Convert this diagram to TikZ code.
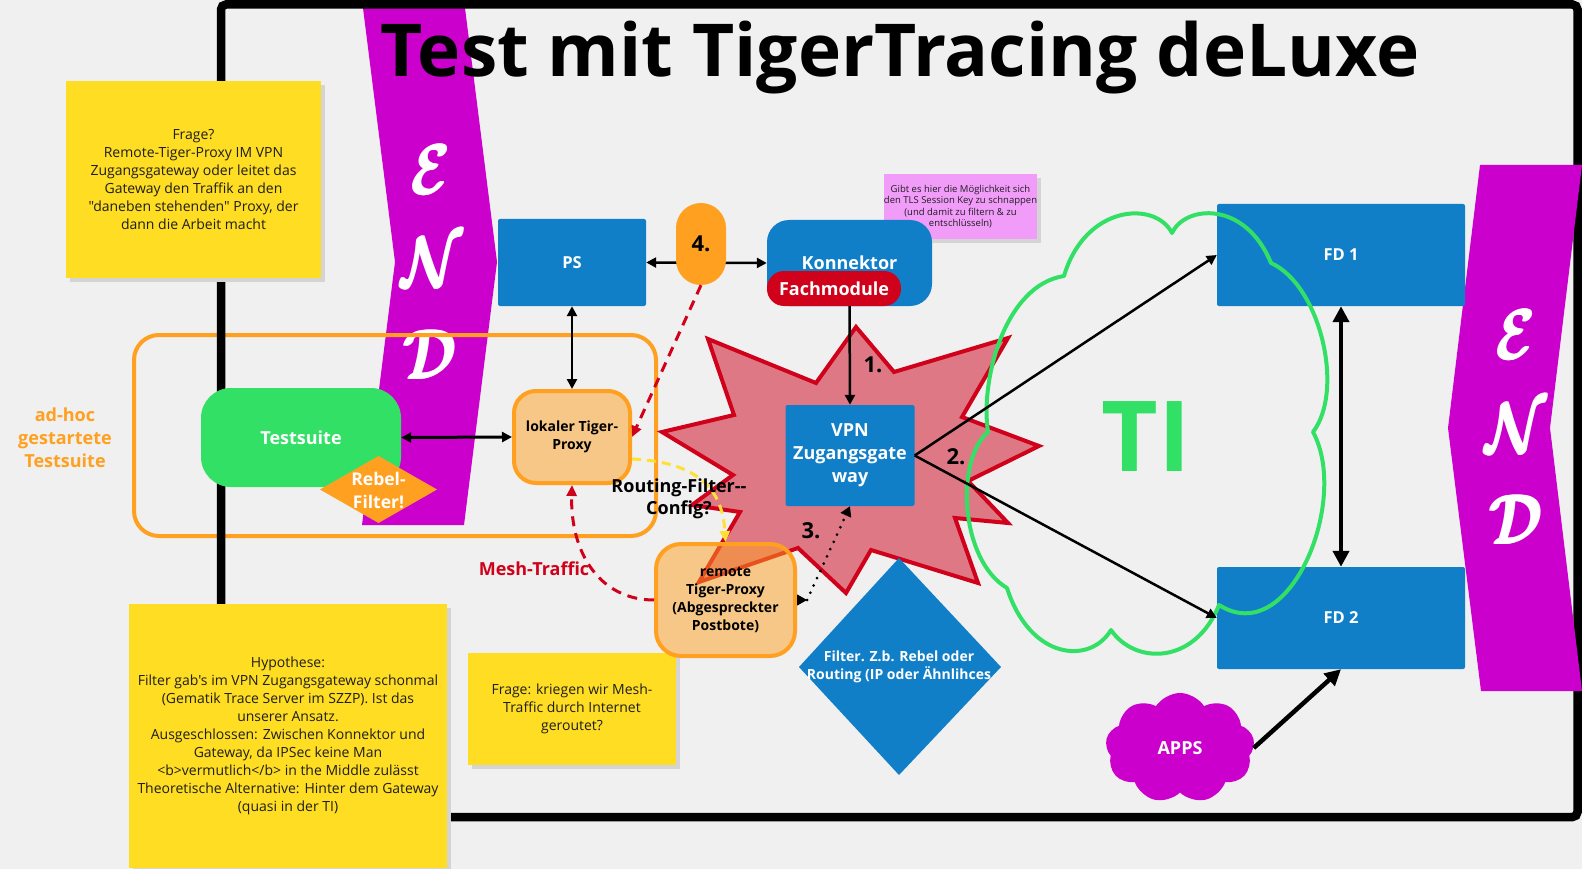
\documentclass[tikz,border=0pt]{standalone}
\usepackage{fontspec}
\setmainfont{Open Sans}[Ligatures=TeXOff]
\usepackage{bm}
\usepackage{graphicx}
\usetikzlibrary{arrows.meta,shapes.geometric,shapes.symbols,shadows,calc}
\definecolor{bgc}{HTML}{F0F0F0}
\definecolor{tblue}{HTML}{117FC8}
\definecolor{tgreen}{HTML}{33E066}
\definecolor{tmag}{HTML}{CC00CC}
\definecolor{tyel}{HTML}{FFDD22}
\definecolor{torange}{HTML}{FFA020}
\definecolor{tred}{HTML}{D0021B}
\definecolor{tpink}{HTML}{F19CF9}
\definecolor{tdash}{HTML}{FFE033}
\definecolor{shade}{HTML}{D4D4D4}
\definecolor{ntext}{HTML}{1E1E1E}
\newcommand{\bannerletter}[1]{\scalebox{5.6}[7.2]{\rlap{$\bm{\mathcal{#1}}$}\hspace{0.22pt}\rlap{$\bm{\mathcal{#1}}$}\hspace{0.22pt}$\bm{\mathcal{#1}}$}}
\begin{document}
\begin{tikzpicture}[x=1pt,y=-1pt,
  note/.style={fill=tyel, text=ntext, align=center, inner sep=0pt,
    font=\fontsize{14}{18}\selectfont,
    general shadow={fill=shade, shadow xshift=4pt, shadow yshift=-4pt}},
  bbox/.style={fill=tblue, text=white, align=center, inner sep=0pt, rounded corners=2pt,
    font=\bfseries\fontsize{16.5}{20}\selectfont},
  proxy/.style={draw=torange, line width=4pt, fill=torange, fill opacity=0.5, text opacity=1,
    text=black, rounded corners=22pt, align=center, inner sep=0pt,
    font=\bfseries\fontsize{14}{18}\selectfont},
  arr/.style={draw=black, line width=2.5pt, -{Triangle[length=10pt,width=10pt]}},
  darr/.style={draw=black, line width=2.5pt, {Triangle[length=10pt,width=10pt]}-{Triangle[length=10pt,width=10pt]}},
  tharr/.style={draw=black, line width=4.5pt, -{Triangle[length=16pt,width=16pt]}},
  thdarr/.style={draw=black, line width=4.5pt, {Triangle[length=16pt,width=16pt]}-{Triangle[length=16pt,width=16pt]}},
  lbl/.style={font=\bfseries\fontsize{18}{22}\selectfont, align=center, inner sep=0pt},
  num/.style={font=\bfseries\fontsize{22}{24}\selectfont, inner sep=0pt},
  letter/.style={text=white, inner sep=0pt},
  banner/.style={fill=tmag}
]
\useasboundingbox (0,0) rectangle (1582,869);
\fill[bgc] (0,0) rectangle (1582,869);

% left banner
\fill[banner] (363,8) -- (465,8) -- (497,262) -- (464,525) -- (362,525) -- (395,262) -- cycle;
\node[letter] (le1) at (431,170) {\bannerletter{E}};
\node[letter] (ln1) at (432,262) {\bannerletter{N}};
\node[letter] (ld1) at (430,355) {\bannerletter{D}};

% ad-hoc group
\node[draw=torange, line width=4pt, rounded corners=25pt, minimum width=522pt, minimum height=201pt, inner sep=0pt] (grp) at (395,435.5) {};
\node[lbl, text=torange, font=\bfseries\fontsize{18}{23}\selectfont] (adhoc) at (65,438) {ad-hoc\\gestartete\\Testsuite};

% frame
\draw[line width=8.5pt, rounded corners=5pt] (221,4.5) rectangle (1577.5,817);

% right banner
\fill[banner] (1480,165) -- (1582,165) -- (1550,428) -- (1582,691) -- (1481,691) -- (1448,428) -- cycle;
\node[letter] (le2) at (1516,335) {\bannerletter{E}};
\node[letter] (ln2) at (1516,428) {\bannerletter{N}};
\node[letter] (ld2) at (1516,520) {\bannerletter{D}};

% title
\node[font=\bfseries\fontsize{73}{80}\selectfont, anchor=base, inner sep=0pt] (title) at (900,77) {Test mit TigerTracing deLuxe};

% notes
\node[note, minimum width=255pt, minimum height=197pt] (n1) at (193.5,179.5)
  {Frage?\\Remote-Tiger-Proxy IM VPN\\Zugangsgateway oder leitet das\\Gateway den Traffik an den\\"daneben stehenden" Proxy, der\\dann die Arbeit macht};
\node[note, minimum width=318pt, minimum height=264pt] (n2) at (288,736)
  {Hypothese:\\Filter gab's im VPN Zugangsgateway schonmal\\(Gematik Trace Server im SZZP). Ist das\\unserer Ansatz.\\Ausgeschlossen: Zwischen Konnektor und\\Gateway, da IPSec keine Man\\<b>vermutlich</b> in the Middle zulässt\\Theoretische Alternative: Hinter dem Gateway\\(quasi in der TI)};
\node[note, minimum width=208pt, minimum height=112pt] (n3) at (572,709)
  {Frage: kriegen wir Mesh-\\Traffic durch Internet\\geroutet?};
\node[note, fill=tpink, minimum width=153pt, minimum height=65pt, font=\fontsize{9.5}{11.5}\selectfont] (n4) at (960.5,206.5)
  {Gibt es hier die Möglichkeit sich\\den TLS Session Key zu schnappen\\(und damit zu filtern \& zu\\entschlüsseln)};

% star
\draw[draw=tred, line width=4pt, fill=tred, fill opacity=0.5, line join=miter]
  (856,327) -- (894,372) -- (1008,338) -- (962,417) -- (1039,446) -- (968,481) -- (1008,523)
  -- (955,518) -- (978,583) -- (871,550) -- (846,593) -- (798,548) -- (699,582) -- (740,512)
  -- (692,505) -- (733,475) -- (662,432) -- (734,415) -- (708,339) -- (816,383) -- cycle;

% FD boxes
\node[bbox, minimum width=248pt, minimum height=102pt] (fd1) at (1341,255) {FD 1};
\node[bbox, minimum width=248pt, minimum height=102pt] (fd2) at (1341,618) {FD 2};

% TI cloud
\draw[tgreen, line width=4pt, line join=round]
  (988,432) .. controls (980,380) and (1005,285) .. (1064,276)
  .. controls (1085,205) and (1155,200) .. (1172,233)
  .. controls (1185,205) and (1245,200) .. (1271,263)
  .. controls (1320,285) and (1345,390) .. (1313,432)
  .. controls (1350,500) and (1290,650) .. (1219,605)
  .. controls (1195,665) and (1135,665) .. (1111,630)
  .. controls (1090,665) and (1030,660) .. (1007,588)
  .. controls (960,560) and (955,460) .. (988,432) -- cycle;
\node[text=tgreen, font=\bfseries\fontsize{98}{100}\selectfont, inner sep=0pt] (ti) at (1146,437) {TI};

% blue nodes
\node[bbox, minimum width=148pt, minimum height=87pt] (ps) at (572,262.5) {PS};
\node[bbox, rounded corners=22pt, minimum width=165pt, minimum height=86pt, font=\bfseries\fontsize{18}{22}\selectfont] (kon) at (849.5,263) {Konnektor};
\node[fill=tred, rounded corners=17pt, text=white, minimum width=134pt, minimum height=35pt, inner sep=0pt, font=\bfseries\fontsize{18}{22}\selectfont] (fach) at (834,288.5) {Fachmodule};
\node[bbox, minimum width=129pt, minimum height=101pt, font=\bfseries\fontsize{18}{23}\selectfont] (vpn) at (850,455.5) {VPN\\Zugangsgate\\way};

\draw[darr] (ps.east) -- (kon.west);
\node[fill=torange, rounded corners=25pt, minimum width=50pt, minimum height=82pt, inner sep=0pt, font=\bfseries\fontsize{22}{24}\selectfont] (pill) at (701,244) {4.};

% diamond filter
\fill[tblue] (899,558) -- (1001,667) -- (899,775) -- (799,667) -- cycle;
\node[text=white, align=center, inner sep=0pt, font=\bfseries\fontsize{14}{18.5}\selectfont] (filt) at (899,667) {Filter. Z.b. Rebel oder\\Routing (IP oder Ähnlihces};

% apps cloud
\node[cloud, cloud puffs=9, cloud puff arc=115, aspect=1.35, fill=tmag, text=white, minimum width=149pt, minimum height=110pt, inner sep=0pt, font=\bfseries\fontsize{18}{22}\selectfont] (apps) at (1180,748) {APPS};

% testsuite
\node[fill=tgreen, text=white, rounded corners=30pt, minimum width=200pt, minimum height=99pt, inner sep=0pt, font=\bfseries\fontsize{18}{22}\selectfont] (ts) at (301,437.5) {Testsuite};
\fill[torange] (378.5,456) -- (437,489.5) -- (378.5,523) -- (320,489.5) -- cycle;
\node[text=white, align=center, inner sep=0pt, font=\bfseries\fontsize{17.5}{23}\selectfont] (rebel) at (378.5,490) {Rebel-\\Filter!};

% proxies
\node[proxy, minimum width=116pt, minimum height=92pt] (lp) at (572,437) {lokaler Tiger-\\Proxy};
\node[proxy, rounded corners=25pt, minimum width=139pt, minimum height=112pt] (rp) at (725.5,600) {remote\\Tiger-Proxy\\(Abgespreckter\\Postbote)};

% connectors
\draw[darr] (ps.south) -- (lp.north);
\draw[darr, line width=3pt] (ts.east) -- (lp.west);
\draw[arr] (kon.south) -- (vpn.north);
\draw[arr] (vpn.east) -- (fd1.west);
\draw[arr] (vpn.east) -- (fd2.west);
\draw[thdarr] (fd1.south) -- (fd2.north);
\draw[tharr] (apps.east) -- (fd2.south);
\draw[tred, line width=3pt, dash pattern=on 10pt off 7pt, -{Triangle[length=11pt,width=10pt]}] (pill.south) -- (lp.east);
\draw[tdash, line width=3pt, dash pattern=on 9pt off 6pt, -{Triangle[length=11pt,width=10pt]}]
  ($(lp.east)+(0,22)$) .. controls +(67,3) and +(-3,-52) .. (rp.north);
\draw[tred, line width=3pt, dash pattern=on 10pt off 7pt, -{Triangle[length=11pt,width=10pt]}]
  (rp.west) .. controls +(-54,0) and +(-2,68) .. (lp.south);
\coordinate (d3) at ($(rp.east)+(10,0)$);
\draw[line width=1pt, -{Triangle[length=10pt,width=11pt]}] (rp.east) -- (d3);
\draw[line width=3pt, dash pattern=on 0pt off 8pt, line cap=round, -{Triangle[length=10pt,width=11pt]}] (d3) -- (vpn.south);

% labels
\node[lbl] (routing) at (679,499) {Routing-Filter--\\Config?};
\node[lbl, text=tred] (mesh) at (534,569) {Mesh-Traffic};
\node[num] (l1) at (873,365) {1.};
\node[num] (l2) at (956,457) {2.};
\node[num] (l3) at (811,531) {3.};
\end{tikzpicture}
\end{document}
